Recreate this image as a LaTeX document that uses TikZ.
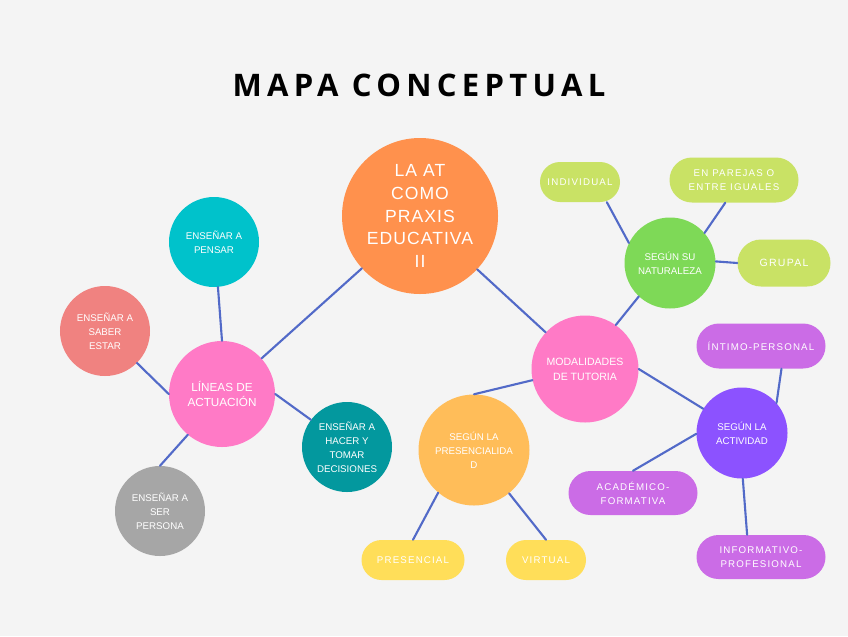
\documentclass[tikz,border=0pt]{standalone}
\usepackage{fontspec}
\setmainfont{Liberation Sans}
\newfontfamily\titlefont{Open Sans}[LetterSpace=17]
\newfontfamily\widefont{Liberation Sans}[LetterSpace=12]
\newfontfamily\midfont{Liberation Sans}[LetterSpace=6]
\usetikzlibrary{calc}

\definecolor{bgcol}{RGB}{244,244,244}
\definecolor{linkcol}{RGB}{82,106,200}
\definecolor{orangecol}{RGB}{255,145,77}
\definecolor{pinkcol}{RGB}{255,122,198}
\definecolor{cyancol}{RGB}{0,194,203}
\definecolor{salmoncol}{RGB}{240,130,128}
\definecolor{graycol}{RGB}{166,166,166}
\definecolor{tealcol}{RGB}{3,152,158}
\definecolor{greencol}{RGB}{126,217,87}
\definecolor{limecol}{RGB}{201,226,101}
\definecolor{violetcol}{RGB}{140,82,255}
\definecolor{lilaccol}{RGB}{203,108,230}
\definecolor{ambercol}{RGB}{255,189,89}
\definecolor{yellowcol}{RGB}{255,222,89}

\begin{document}
\begin{tikzpicture}[x=0.03cm,y=-0.03cm,
  bub/.style={circle,text=white,align=center,inner sep=0pt,font=\fontsize{8.3}{12}\selectfont},
  pill/.style={text=white,align=center,inner sep=0pt,font=\widefont\fontsize{8.3}{12}\selectfont},
  link/.style={draw=linkcol,line width=1.8pt,line cap=round}]
  \fill[bgcol] (0,0) rectangle (848,636);
  \node (title) at (419,85) {\titlefont\bfseries\fontsize{26.5}{30}\selectfont MAPA CONCEPTUAL};

  % centro
  \node[bub,fill=orangecol,minimum size=4.68cm,font=\midfont\fontsize{15}{19.5}\selectfont] (main) at (420,216) {LA AT\\COMO\\PRAXIS\\EDUCATIVA\\II};

  % lineas de actuacion
  \node[bub,fill=pinkcol,minimum size=3.18cm,font=\fontsize{10}{13.5}\selectfont] (lin) at (222,394) {LÍNEAS DE\\ACTUACIÓN};
  \node[bub,fill=cyancol,minimum size=2.7cm] (pen) at (214,242) {ENSEÑAR A\\PENSAR};
  \node[bub,fill=salmoncol,minimum size=2.7cm] (sab) at (105,331) {ENSEÑAR A\\SABER\\ESTAR};
  \node[bub,fill=graycol,minimum size=2.7cm] (ser) at (160,511) {ENSEÑAR A\\SER\\PERSONA};
  \node[bub,fill=tealcol,minimum size=2.7cm] (hac) at (347,447) {ENSEÑAR A\\HACER Y\\TOMAR\\DECISIONES};

  % modalidades
  \node[bub,fill=pinkcol,minimum size=3.21cm,font=\fontsize{9}{13}\selectfont] (mod) at (585,369) {MODALIDADES\\DE TUTORIA};
  \node[bub,fill=greencol,minimum size=2.73cm] (nat) at (670,263) {SEGÚN SU\\NATURALEZA};
  \node[bub,fill=violetcol,minimum size=2.73cm] (act) at (742,433) {SEGÚN LA\\ACTIVIDAD};
  \node[bub,fill=ambercol,minimum size=3.33cm] (pre) at (474,450) {SEGÚN LA\\PRESENCIALIDA\\D};

  \node[pill,fill=limecol,minimum width=2.4cm,minimum height=1.2cm,rounded corners=0.6cm] (ind) at (580,182) {INDIVIDUAL};
  \node[pill,fill=limecol,minimum width=3.87cm,minimum height=1.35cm,rounded corners=0.675cm] (par) at (734,180) {EN PAREJAS O\\ENTRE IGUALES};
  \node[pill,fill=limecol,minimum width=2.79cm,minimum height=1.41cm,rounded corners=0.705cm,font=\widefont\fontsize{9}{12}\selectfont] (gru) at (784,263) {GRUPAL};
  \node[pill,fill=lilaccol,minimum width=3.87cm,minimum height=1.35cm,rounded corners=0.675cm] (int) at (761,346) {ÍNTIMO-PERSONAL};
  \node[pill,fill=lilaccol,minimum width=3.87cm,minimum height=1.32cm,rounded corners=0.66cm] (aca) at (633,493) {ACADÉMICO-\\FORMATIVA};
  \node[pill,fill=lilaccol,minimum width=3.87cm,minimum height=1.32cm,rounded corners=0.66cm] (inf) at (761,557) {INFORMATIVO-\\PROFESIONAL};
  \node[pill,fill=yellowcol,minimum width=3.09cm,minimum height=1.2cm,rounded corners=0.6cm] (prs) at (413,560) {PRESENCIAL};
  \node[pill,fill=yellowcol,minimum width=2.4cm,minimum height=1.2cm,rounded corners=0.6cm] (vir) at (546,560) {VIRTUAL};

  % conectores
  \draw[link] (main.222) -- (lin.42);
  \draw[link] (main.-43) -- (mod.137);
  \draw[link] (lin.90) -- (pen.275);
  \draw[link] (lin.180) -- (sab.-45);
  \draw[link] (lin.230) -- (ser.90);
  \draw[link] (lin.0) -- (hac.143);
  \draw[link] (mod.55) -- (nat.227);
  \draw[link] (mod.0) -- (act.148);
  \draw[link] (mod.192) -- (pre.90);
  \draw[link] (nat.154) -- (ind.-37);
  \draw[link] (nat.41) -- (par.-111);
  \draw[link] (nat.2) -- (gru.west);
  \draw[link] (act.41) -- (int.-48);
  \draw[link] (act.181) -- (aca.90);
  \draw[link] (act.-89) -- (inf.122);
  \draw[link] (pre.230) -- (prs.90);
  \draw[link] (pre.-51) -- (vir.90);
\end{tikzpicture}
\end{document}
